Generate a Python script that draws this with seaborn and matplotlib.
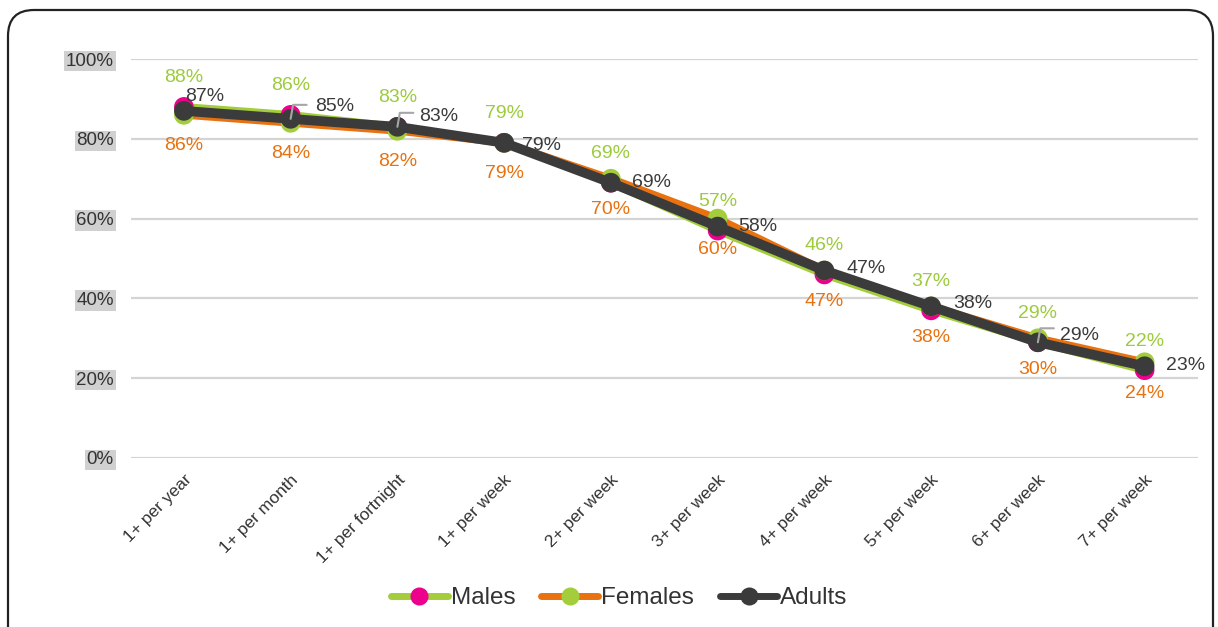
import matplotlib
matplotlib.use("Agg")
import matplotlib.pyplot as plt
from matplotlib.lines import Line2D
from matplotlib.patches import FancyBboxPatch
import pandas as pd
import seaborn as sns

categories = ["1+ per year", "1+ per month", "1+ per fortnight", "1+ per week",
              "2+ per week", "3+ per week", "4+ per week", "5+ per week",
              "6+ per week", "7+ per week"]
males = [88, 86, 83, 79, 69, 57, 46, 37, 29, 22]
females = [86, 84, 82, 79, 70, 60, 47, 38, 30, 24]
adults = [87, 85, 83, 79, 69, 58, 47, 38, 29, 23]
y_ticks = [0, 20, 40, 60, 80, 100]

series = ["Males", "Females", "Adults"]
line_colors = {"Males": "#A3CD3A", "Females": "#E8720F", "Adults": "#3B3B3B"}
marker_colors = {"Males": "#EC008C", "Females": "#A3CD3A", "Adults": "#3B3B3B"}
label_colors = {"Males": "#9CCB3B", "Females": "#E8720F", "Adults": "#3B3B3B"}

df = pd.DataFrame({
    "category": categories * 3,
    "value": males + females + adults,
    "series": sum([[s] * len(categories) for s in series], []),
})

sns.set_theme(style="white")
plt.rcParams["font.family"] = ["Liberation Sans", "DejaVu Sans"]

fig = plt.figure(figsize=(12.18, 6.27), dpi=100)
ax = fig.add_axes([130.5 / 1218, 1 - 458 / 627, (1198 - 130.5) / 1218, (458 - 59) / 627])

# gridlines behind everything
for t in y_ticks:
    ax.axhline(t, color="#D4D4D4", lw=1.6, zorder=0)

for i, s in enumerate(series):
    sub = df[df["series"] == s]
    sns.lineplot(data=sub, x="category", y="value", color=line_colors[s],
                 lw=5.5 if s != "Adults" else 7, ax=ax, zorder=2 + 2 * i,
                 sort=False, legend=False)
    sns.scatterplot(data=sub, x="category", y="value", color=marker_colors[s],
                    s=200, edgecolor="none", ax=ax, zorder=3 + 2 * i, legend=False)

# value labels
adult_dy = [14, 12, 10, -3, 0, 0, 2, 3, 7, 1]
adult_dx = [1, 24, 22, 18, 21, 21, 22, 22, 22, 21]
fs = 14
for i in range(len(categories)):
    ax.annotate(f"{males[i]}%", (i, males[i]), xytext=(0, 29), textcoords="offset pixels",
                ha="center", va="center", fontsize=fs, color=label_colors["Males"], zorder=10)
    ax.annotate(f"{females[i]}%", (i, females[i]), xytext=(0, -31), textcoords="offset pixels",
                ha="center", va="center", fontsize=fs, color=label_colors["Females"], zorder=10)
    ax.annotate(f"{adults[i]}%", (i, adults[i]), xytext=(adult_dx[i], adult_dy[i]),
                textcoords="offset pixels", ha="left", va="center", fontsize=fs,
                color=label_colors["Adults"], zorder=10)

# short leader lines for a few adult labels
for i in (1, 2, 8):
    ax.annotate("", (i, adults[i]), xytext=(16, 14), textcoords="offset pixels",
                arrowprops=dict(arrowstyle="-", color="#A6A6A6", lw=1.5,
                                shrinkA=0, shrinkB=0,
                                connectionstyle="angle,angleA=0,angleB=80,rad=0"),
                zorder=9)

ax.set_xlim(-0.5, len(categories) - 0.5)
ax.set_ylim(0, 100)
ax.set_yticks(y_ticks)
ax.set_yticklabels([f"{t}%" for t in y_ticks], fontsize=13.5, color="#333333")
for lbl in ax.get_yticklabels():
    lbl.set_bbox(dict(facecolor="#D0D0D0", edgecolor="none", pad=1.2))
ax.set_xticks(range(len(categories)))
ax.set_xticklabels(categories, rotation=45, ha="right", rotation_mode="anchor",
                   fontsize=12.5, color="#333333")
ax.tick_params(axis="y", length=0, pad=12)
ax.tick_params(axis="x", length=0, pad=10)
ax.set_xlabel("")
ax.set_ylabel("")
for sp in ax.spines.values():
    sp.set_visible(False)
ax.set_facecolor("none")

handles = [
    Line2D([0], [0], color=line_colors[s], lw=5, marker="o", markersize=13,
           markerfacecolor=marker_colors[s], markeredgecolor="none")
    for s in series
]
fig.legend(handles, series, loc="center", bbox_to_anchor=(619 / 1218, 1 - 598 / 627),
           ncol=3, frameon=False, fontsize=17.5, handlelength=2.35, handletextpad=0.12,
           columnspacing=1.07, labelcolor="#333333")

# rounded frame around the figure
frame = FancyBboxPatch((8, -40), 1205, 657, boxstyle="round,pad=0,rounding_size=26",
                       transform=None, fill=False, edgecolor="#222222", lw=1.6)
fig.patches.append(frame)

fig.savefig("out.png", dpi=100)
